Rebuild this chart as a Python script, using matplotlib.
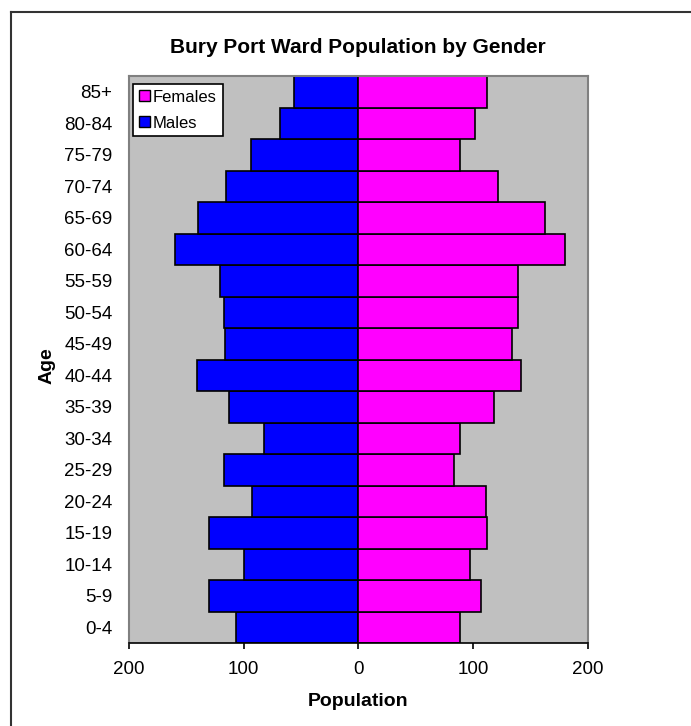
import numpy as np
import matplotlib
matplotlib.use("Agg")
import matplotlib.pyplot as plt
from matplotlib.lines import Line2D
from matplotlib.patches import Patch

plt.rcParams['font.family'] = ['Liberation Sans', 'DejaVu Sans']

ages = ['0-4', '5-9', '10-14', '15-19', '20-24', '25-29', '30-34', '35-39',
        '40-44', '45-49', '50-54', '55-59', '60-64', '65-69', '70-74',
        '75-79', '80-84', '85+']
males = [107, 130, 100, 130, 93, 117, 82, 113, 141, 116, 117, 121, 160,
         140, 115, 94, 68, 56]
females = [89, 107, 97, 112, 111, 83, 89, 118, 142, 134, 139, 139, 180,
           163, 122, 89, 102, 112]
xticks = [-200, -100, 0, 100, 200]

fig = plt.figure(figsize=(6.91, 7.26), dpi=100)
ax = fig.add_axes([0.1867, 0.1143, 0.6638, 0.781])
ax.set_facecolor('#C0C0C0')

y = np.arange(len(ages))
ax.barh(y, -np.array(males), height=1.0, color='#0000FF',
        edgecolor='black', linewidth=1.2)
ax.barh(y, females, height=1.0, color='#FF00FF',
        edgecolor='black', linewidth=1.2)

ax.set_xlim(-200, 200)
ax.set_ylim(-0.5, len(ages) - 0.5)
ax.set_yticks(y)
ax.set_yticklabels(ages, fontsize=13.5)
ax.set_xticks(xticks)
ax.set_xticklabels([str(abs(v)) for v in xticks], fontsize=13.5)
ax.tick_params(axis='y', length=0, pad=12)
ax.tick_params(axis='x', length=4, width=1.2, pad=9, direction='out')

for side in ['top', 'right', 'left']:
    ax.spines[side].set_color('#808080')
    ax.spines[side].set_linewidth(1.5)
ax.spines['bottom'].set_color('black')
ax.spines['bottom'].set_linewidth(1.2)

ax.set_xlabel('Population', fontsize=14, fontweight='bold')
ax.xaxis.set_label_coords(0.5, -0.104)
ax.xaxis.label.set_va('center')
ax.set_ylabel('Age', fontsize=14, fontweight='bold')
ax.yaxis.set_label_coords(-0.179, 0.49)
ax.yaxis.label.set_va('center')

fig.text(0.518, 0.934, 'Bury Port Ward Population by Gender',
         fontsize=15, fontweight='bold', ha='center', va='center')

handles = [Patch(facecolor='#FF00FF', edgecolor='black', label='Females'),
           Patch(facecolor='#0000FF', edgecolor='black', label='Males')]
leg = ax.legend(handles=handles, loc='upper left',
                bbox_to_anchor=(0.0087, 0.986), borderaxespad=0,
                fontsize=12, fancybox=False, framealpha=1,
                edgecolor='black', handlelength=0.65, handleheight=0.65,
                handletextpad=0.2, labelspacing=0.65, borderpad=0.35)
leg.get_frame().set_linewidth(1.2)

# chart border (only top and left visible in the crop)
fig.add_artist(Line2D([11 / 691, 11 / 691], [0, 1 - 12 / 726],
                      transform=fig.transFigure, color='#333333', lw=1.5))
fig.add_artist(Line2D([11 / 691, 1], [1 - 12 / 726, 1 - 12 / 726],
                      transform=fig.transFigure, color='#333333', lw=1.5))

fig.savefig('out.png', dpi=100)
